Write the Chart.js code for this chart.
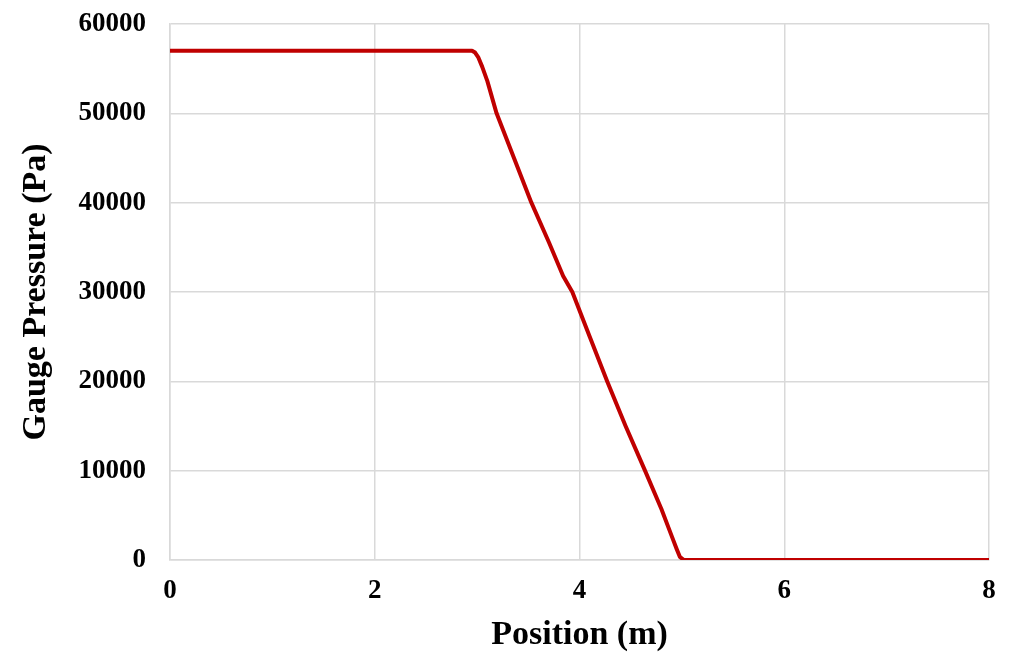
<!DOCTYPE html>
<html>
<head>
<meta charset="utf-8">
<script src="https://cdn.jsdelivr.net/npm/chart.js@4"></script>
<style>
    body { margin: 0; background: #ffffff; }
    #grafico { display: block; }
</style>
</head>
<body>
<canvas id="grafico" width="1022" height="664"></canvas>
<script>
// posicao (m) e pressao manometrica (Pa)
var posicao = [0, 1, 2, 2.95, 2.98, 3.01, 3.05, 3.1, 3.19, 3.36, 3.53, 3.7, 3.84, 3.93, 4.1, 4.27, 4.45, 4.64, 4.8, 4.9, 4.95, 4.98, 5.02, 6, 7, 8];
var pressao = [57000, 57000, 57000, 57000, 56800, 56300, 55200, 53600, 50000, 45000, 40000, 35600, 31800, 30000, 25000, 20000, 15000, 10000, 5700, 2700, 1200, 350, 0, 0, 0, 0];

var ticksX = [0, 2, 4, 6, 8];
var ticksY = [0, 10000, 20000, 30000, 40000, 50000, 60000];

var fonteEixo = { family: "'Liberation Serif', 'Times New Roman', serif", weight: 'bold', size: 27 };
var fonteTitulo = { family: "'Liberation Serif', 'Times New Roman', serif", weight: 'bold', size: 34 };

let dados = {
    datasets: [{
        label: 'Gauge Pressure',
        data: posicao.map(function (x, i) { return { x: x, y: pressao[i] }; }),
        showLine: true,
        borderColor: '#c00000',
        borderWidth: 4,
        borderJoinStyle: 'round',
        pointRadius: 0,
        tension: 0,
        fill: false
    }]
};

const config = {
    type: 'scatter',
    data: dados,
    options: {
        responsive: false,
        animation: false,
        layout: { padding: { top: 24, right: 33, left: 16, bottom: 8 } },
        plugins: { legend: { display: false }, tooltip: { enabled: false } },
        scales: {
            x: {
                type: 'linear',
                min: 0,
                max: 8,
                afterBuildTicks: function (scale) { scale.ticks = ticksX.map(function (v) { return { value: v }; }); },
                ticks: { color: '#000', font: fonteEixo, padding: 15, callback: function (v) { return String(v); } },
                grid: { color: '#d9d9d9', lineWidth: 1.5, drawTicks: false },
                border: { color: '#d9d9d9', width: 1.5 },
                title: { display: true, text: 'Position (m)', color: '#000', font: fonteTitulo, padding: { top: 4, bottom: 0 } },
                afterFit: function (scale) { scale.height = 96; }
            },
            y: {
                min: 0,
                max: 60000,
                afterBuildTicks: function (scale) { scale.ticks = ticksY.map(function (v) { return { value: v }; }); },
                ticks: { color: '#000', font: fonteEixo, padding: 24, callback: function (v) { return String(v); } },
                grid: { color: '#d9d9d9', lineWidth: 1.5, drawTicks: false },
                border: { color: '#d9d9d9', width: 1.5 },
                title: { display: true, text: 'Gauge Pressure (Pa)', color: '#000', font: fonteTitulo, padding: { top: 0, bottom: 10 } },
                afterFit: function (scale) { scale.width = 154; scale.paddingTop = 0; }
            }
        }
    }
};

let myChart = new Chart(document.getElementById('grafico'), config);
</script>
</body>
</html>
